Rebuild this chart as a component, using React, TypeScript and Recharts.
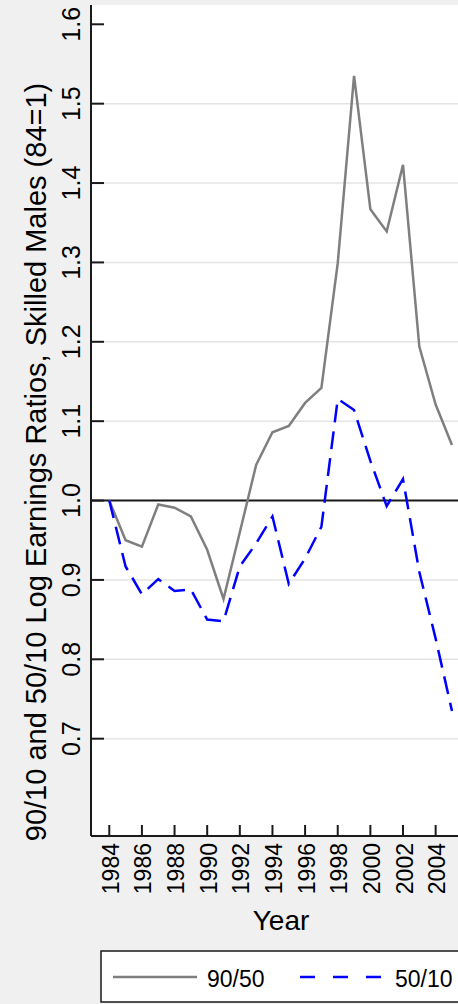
import React from "react";
import {
  LineChart,
  Line,
  XAxis,
  YAxis,
  CartesianGrid,
  ReferenceLine,
} from "recharts";

const years = [
  1984, 1985, 1986, 1987, 1988, 1989, 1990, 1991, 1992, 1993, 1994, 1995,
  1996, 1997, 1998, 1999, 2000, 2001, 2002, 2003, 2004, 2005,
];

// 90/50 ratio, indexed so that 1984 = 1
const ratio9050 = [
  1.0, 0.95, 0.942, 0.995, 0.991, 0.98, 0.938, 0.876, 0.96, 1.045, 1.086,
  1.094, 1.123, 1.142, 1.299, 1.535, 1.367, 1.339, 1.423, 1.194, 1.121, 1.07,
];

// 50/10 ratio, indexed so that 1984 = 1
const ratio5010 = [
  1.0, 0.917, 0.882, 0.901, 0.886, 0.888, 0.85, 0.848, 0.917, 0.946, 0.98,
  0.895, 0.927, 0.967, 1.128, 1.114, 1.05, 0.993, 1.027, 0.91, 0.826, 0.735,
];

const xTicks = [1984, 1986, 1988, 1990, 1992, 1994, 1996, 1998, 2000, 2002, 2004];
const yTicks = [0.7, 0.8, 0.9, 1.0, 1.1, 1.2, 1.3, 1.4, 1.5, 1.6];

const seriesNames = ["90/50", "50/10"];
const yTitle = "90/10 and 50/10 Log Earnings Ratios, Skilled Males (84=1)";
const xTitle = "Year";

const data = years.map((year, i) => ({
  year,
  r9050: ratio9050[i],
  r5010: ratio5010[i],
}));

const FONT = '"Liberation Sans", Arial, sans-serif';
const GRAY = "#7f7f7f";
const BLUE = "#0000ff";
const INK = "#1a1a1a";

const YTick = (props: any) => {
  const { x, y, payload } = props;
  const tx = x - 11;
  return (
    <g>
      <line x1={x} x2={x + 13} y1={y} y2={y} stroke={INK} strokeWidth={2} />
      <text
        x={tx}
        y={y}
        transform={`rotate(-90 ${tx} ${y})`}
        textAnchor="middle"
        fontSize={25}
        fontFamily={FONT}
        fill="#000"
      >
        {Number(payload.value).toFixed(1)}
      </text>
    </g>
  );
};

const XTick = (props: any) => {
  const { x, y, payload } = props;
  const tx = x + 9.5;
  const ty = y + 7;
  return (
    <g>
      <line x1={x} x2={x} y1={y - 11} y2={y} stroke={INK} strokeWidth={2} />
      <text
        x={tx}
        y={ty}
        transform={`rotate(-90 ${tx} ${ty})`}
        textAnchor="end"
        fontSize={23}
        fontFamily={FONT}
        fill="#000"
      >
        {payload.value}
      </text>
    </g>
  );
};

const YTitle = (props: any) => {
  const { viewBox } = props;
  const cx = viewBox.x + 46;
  const cy = 462;
  return (
    <text
      x={cx}
      y={cy}
      transform={`rotate(-90 ${cx} ${cy})`}
      textAnchor="middle"
      fontSize={29}
      fontFamily={FONT}
      fill="#000"
    >
      {yTitle}
    </text>
  );
};

const XTitle = (props: any) => {
  const { viewBox } = props;
  return (
    <text
      x={viewBox.x + 190}
      y={930}
      textAnchor="middle"
      fontSize={28}
      fontFamily={FONT}
      fill="#000"
    >
      {xTitle}
    </text>
  );
};

function LegendBox() {
  return (
    <svg
      width={458}
      height={1004}
      style={{ position: "absolute", left: 0, top: 0, pointerEvents: "none" }}
    >
      <rect x={101} y={951} width={400} height={51} fill="#fff" stroke={INK} strokeWidth={1.5} />
      <line x1={113} x2={197} y1={977} y2={977} stroke={GRAY} strokeWidth={2.5} />
      <text x={207} y={987} fontSize={23} fontFamily={FONT} fill="#000">
        {seriesNames[0]}
      </text>
      <line x1={300} x2={385} y1={977} y2={977} stroke={BLUE} strokeWidth={2.5} strokeDasharray="15 18" />
      <text x={395} y={987} fontSize={23} fontFamily={FONT} fill="#000">
        {seriesNames[1]}
      </text>
    </svg>
  );
}

export default function App() {
  return (
    <div
      style={{
        position: "relative",
        width: 458,
        height: 1004,
        overflow: "hidden",
        background: "#f0f0f0",
      }}
    >
      <style>{"body{margin:0;overflow:hidden}"}</style>
      <LineChart
        width={458}
        height={1004}
        data={data}
        margin={{ top: 5, right: 0, bottom: 0, left: 0 }}
      >
        <CartesianGrid
          vertical={false}
          fill="#ffffff"
          stroke="#e4e4e4"
          strokeWidth={1.5}
          horizontalValues={yTicks.filter((v) => v < 1.55)}
        />
        <XAxis
          dataKey="year"
          type="number"
          domain={[1982.88, 2005.37]}
          allowDataOverflow
          ticks={xTicks}
          interval={0}
          height={168}
          tickSize={0}
          tickMargin={0}
          tickLine={false}
          tick={<XTick />}
          axisLine={{ stroke: INK, strokeWidth: 2 }}
          label={<XTitle />}
        />
        <YAxis
          type="number"
          domain={[0.5774, 1.6243]}
          allowDataOverflow
          ticks={yTicks}
          interval={0}
          width={91}
          tickSize={0}
          tickMargin={0}
          tickLine={false}
          tick={<YTick />}
          axisLine={{ stroke: INK, strokeWidth: 2 }}
          label={<YTitle />}
        />
        <ReferenceLine y={1} stroke={INK} strokeWidth={2} />
        <Line
          type="linear"
          dataKey="r9050"
          name={seriesNames[0]}
          stroke={GRAY}
          strokeWidth={2.5}
          dot={false}
          isAnimationActive={false}
        />
        <Line
          type="linear"
          dataKey="r5010"
          name={seriesNames[1]}
          stroke={BLUE}
          strokeWidth={2.5}
          strokeDasharray="18 9"
          dot={false}
          isAnimationActive={false}
        />
      </LineChart>
      <LegendBox />
    </div>
  );
}
